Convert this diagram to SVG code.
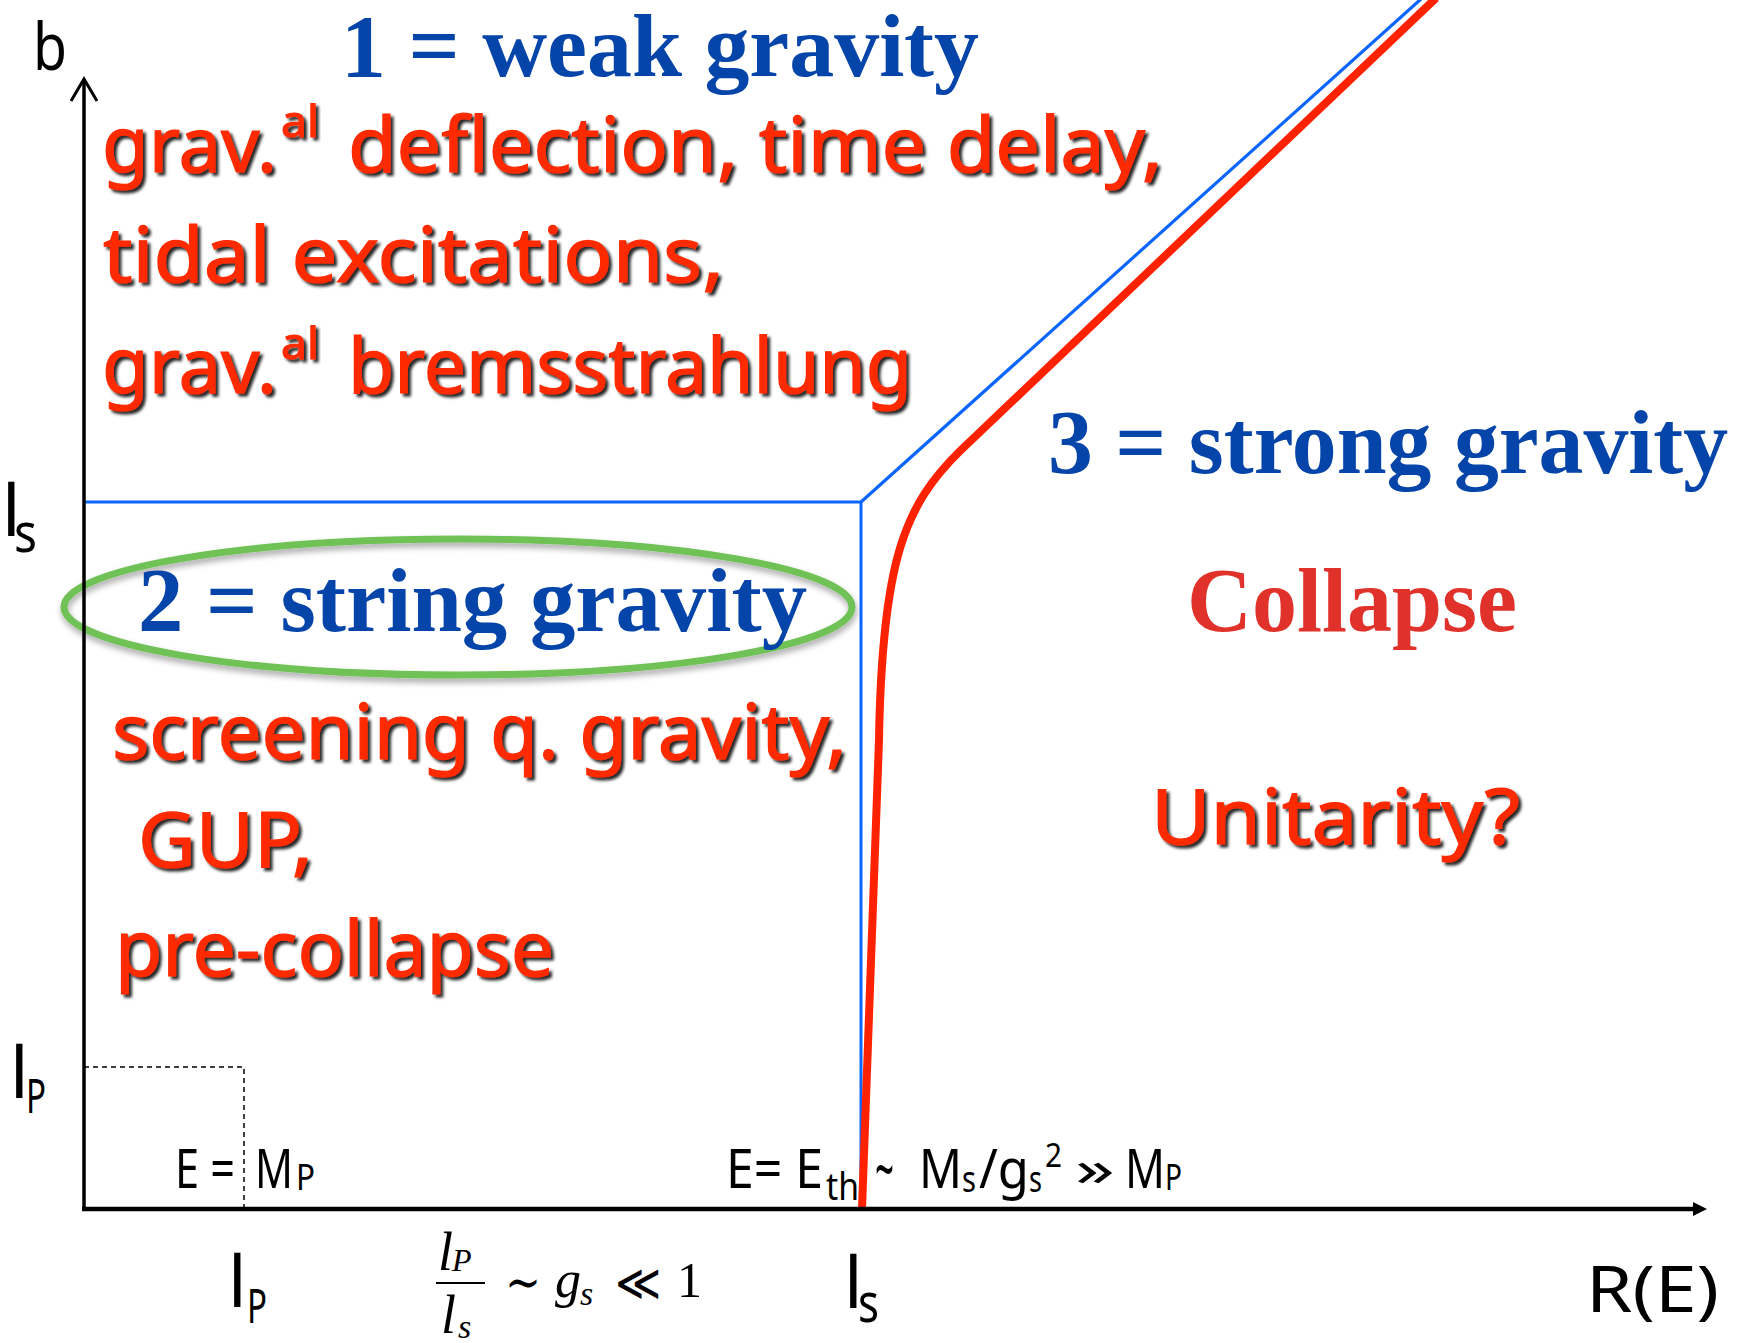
<svg xmlns="http://www.w3.org/2000/svg" width="1741" height="1343" viewBox="0 0 1741 1343">
<defs>
  <filter id="sh" x="-5%" y="-20%" width="110%" height="150%">
    <feDropShadow dx="3" dy="3" stdDeviation="1.6" flood-color="#000" flood-opacity="0.85"/>
  </filter>
  <filter id="esh" x="-5%" y="-20%" width="110%" height="150%">
    <feDropShadow dx="1" dy="4" stdDeviation="3" flood-color="#000" flood-opacity="0.35"/>
  </filter>
</defs>
<style>
  .red { font-family: "Noto Sans", "DejaVu Sans", sans-serif; fill: #ff2a00; stroke: #ff2a00; stroke-width: 1.2; filter: url(#sh); }
  .blue { font-family: "Liberation Serif", "DejaVu Serif", serif; font-weight: bold; fill: #0544a8; }
  .lab { font-family: "Noto Sans", "DejaVu Sans", sans-serif; fill: #000; }
  .math { font-family: "Liberation Serif", "DejaVu Serif", serif; fill: #000; }
  .mi { font-style: italic; }
  .bl { stroke: #0a66ff; fill: none; }
</style>
<rect width="1741" height="1343" fill="#fff"/>

<g id="region1-title"><text class="blue" x="341" y="76" font-size="88" textLength="638" lengthAdjust="spacingAndGlyphs">1 = weak gravity</text></g>

<g id="region1-text">
  <text class="red" x="102" y="172" font-size="76" textLength="175" lengthAdjust="spacingAndGlyphs">grav.</text>
  <text class="red" x="281" y="137" font-size="44" textLength="38" lengthAdjust="spacingAndGlyphs">al</text>
  <text class="red" x="348" y="172" font-size="76" textLength="815" lengthAdjust="spacingAndGlyphs">deflection, time delay,</text>
  <text class="red" x="103" y="282" font-size="76" textLength="621" lengthAdjust="spacingAndGlyphs">tidal excitations,</text>
  <text class="red" x="102" y="393" font-size="76" textLength="175" lengthAdjust="spacingAndGlyphs">grav.</text>
  <text class="red" x="281" y="359" font-size="44" textLength="38" lengthAdjust="spacingAndGlyphs">al</text>
  <text class="red" x="348" y="393" font-size="76" textLength="564" lengthAdjust="spacingAndGlyphs">bremsstrahlung</text>
</g>

<g id="region2-title">
  <ellipse cx="458" cy="607" rx="394" ry="68" fill="none" stroke="#6fc157" stroke-width="7" filter="url(#esh)"/>
  <text class="blue" x="138" y="631" font-size="92" textLength="669" lengthAdjust="spacingAndGlyphs">2 = string gravity</text>
</g>

<g id="region2-text">
  <text class="red" x="112" y="759" font-size="76" textLength="735" lengthAdjust="spacingAndGlyphs">screening q. gravity,</text>
  <text class="red" x="138" y="867" font-size="76" textLength="175" lengthAdjust="spacingAndGlyphs">GUP,</text>
  <text class="red" x="115" y="976" font-size="76" textLength="439" lengthAdjust="spacingAndGlyphs">pre-collapse</text>
</g>

<g id="region3-title"><text class="blue" x="1048" y="473" font-size="90" textLength="680" lengthAdjust="spacingAndGlyphs">3 = strong gravity</text></g>
<g id="region3-collapse"><text class="blue" x="1187" y="631" font-size="92" textLength="330" lengthAdjust="spacingAndGlyphs" style="fill:#e0322a">Collapse</text></g>
<g id="region3-unitarity"><text class="red" x="1151" y="844" font-size="76" textLength="369" lengthAdjust="spacingAndGlyphs">Unitarity?</text></g>

<g id="axis-labels">
  <text class="lab" x="33" y="70" font-size="66" textLength="34" lengthAdjust="spacingAndGlyphs">b</text>
  <text class="lab" x="2" y="536" font-size="72">l</text>
  <text class="lab" x="14" y="552" font-size="54" textLength="23" lengthAdjust="spacingAndGlyphs">s</text>
  <text class="lab" x="10" y="1098" font-size="72">l</text>
  <text class="lab" x="26" y="1113" font-size="48" textLength="20" lengthAdjust="spacingAndGlyphs">P</text>
  <text class="lab" x="228" y="1307" font-size="72">l</text>
  <text class="lab" x="247" y="1323" font-size="48" textLength="20" lengthAdjust="spacingAndGlyphs">P</text>
  <text class="lab" x="844" y="1308" font-size="72">l</text>
  <text class="lab" x="858" y="1322" font-size="54" textLength="21" lengthAdjust="spacingAndGlyphs">s</text>
  <text class="lab" x="1586" y="1312" font-size="64" textLength="133" lengthAdjust="spacingAndGlyphs">R(E)</text>
</g>

<g id="label-planck">
  <text class="lab" x="175" y="1188" font-size="55" textLength="60" lengthAdjust="spacingAndGlyphs">E =</text>
  <text class="lab" x="255" y="1188" font-size="55" textLength="38" lengthAdjust="spacingAndGlyphs">M</text>
  <text class="lab" x="296" y="1190" font-size="36" textLength="19" lengthAdjust="spacingAndGlyphs">P</text>
</g>

<g id="label-threshold">
  <text class="lab" x="726" y="1188" font-size="55" textLength="97" lengthAdjust="spacingAndGlyphs">E= E</text>
  <text class="lab" x="826" y="1200" font-size="38" textLength="33" lengthAdjust="spacingAndGlyphs">th</text>
  <text class="lab" x="875" y="1194" font-size="70" textLength="19" lengthAdjust="spacingAndGlyphs">~</text>
  <text class="lab" x="919" y="1188" font-size="55" textLength="43" lengthAdjust="spacingAndGlyphs">M</text>
  <text class="lab" x="962" y="1192" font-size="36" textLength="14" lengthAdjust="spacingAndGlyphs">s</text>
  <text class="lab" x="979" y="1188" font-size="55" textLength="50" lengthAdjust="spacingAndGlyphs">/g</text>
  <text class="lab" x="1029" y="1192" font-size="36" textLength="13" lengthAdjust="spacingAndGlyphs">s</text>
  <text class="lab" x="1045" y="1167" font-size="32" textLength="17" lengthAdjust="spacingAndGlyphs">2</text>
  <text class="lab" x="1075" y="1186" font-size="50" textLength="40" lengthAdjust="spacingAndGlyphs">»</text>
  <text class="lab" x="1125" y="1188" font-size="55" textLength="40" lengthAdjust="spacingAndGlyphs">M</text>
  <text class="lab" x="1165" y="1190" font-size="36" textLength="17" lengthAdjust="spacingAndGlyphs">P</text>
</g>

<g id="formula">
  <text class="math mi" x="438" y="1270" font-size="54">l</text>
  <text class="math mi" x="452" y="1271" font-size="32">P</text>
  <line x1="436" y1="1283" x2="485" y2="1283" stroke="#000" stroke-width="1.8"/>
  <text class="math mi" x="441" y="1333" font-size="54">l</text>
  <text class="math mi" x="458" y="1338" font-size="34">s</text>
  <text class="math" x="505" y="1300" font-size="52" textLength="36" lengthAdjust="spacingAndGlyphs">∼</text>
  <text class="math mi" x="555" y="1297" font-size="52">g</text>
  <text class="math mi" x="580" y="1305" font-size="34">s</text>
  <text class="math" x="615" y="1300" font-size="50" textLength="46" lengthAdjust="spacingAndGlyphs">≪</text>
  <text class="math" x="677" y="1297" font-size="50">1</text>
</g>

<g id="connectors">
  <polyline class="bl" points="84,502 861,502 861,1209" stroke-width="3"/>
  <line class="bl" x1="861" y1="502" x2="1421" y2="-1" stroke-width="3.2"/>
  <path d="M862,1209 L879,740 C882,560 905,505 960,451 L1436,-2" fill="none" stroke="#ff2200" stroke-width="8"/>
  <path d="M84,1067 H244 V1209" fill="none" stroke="#000" stroke-width="1.5" stroke-dasharray="5,4"/>
  <line x1="84" y1="80" x2="84" y2="1211" stroke="#000" stroke-width="3.5"/>
  <polyline points="71,101 84,79 97,101" fill="none" stroke="#000" stroke-width="3"/>
  <line x1="82" y1="1209" x2="1696" y2="1209" stroke="#000" stroke-width="4.5"/>
  <polygon points="1707,1209 1693,1202 1693,1216" fill="#000"/>
</g>
</svg>
